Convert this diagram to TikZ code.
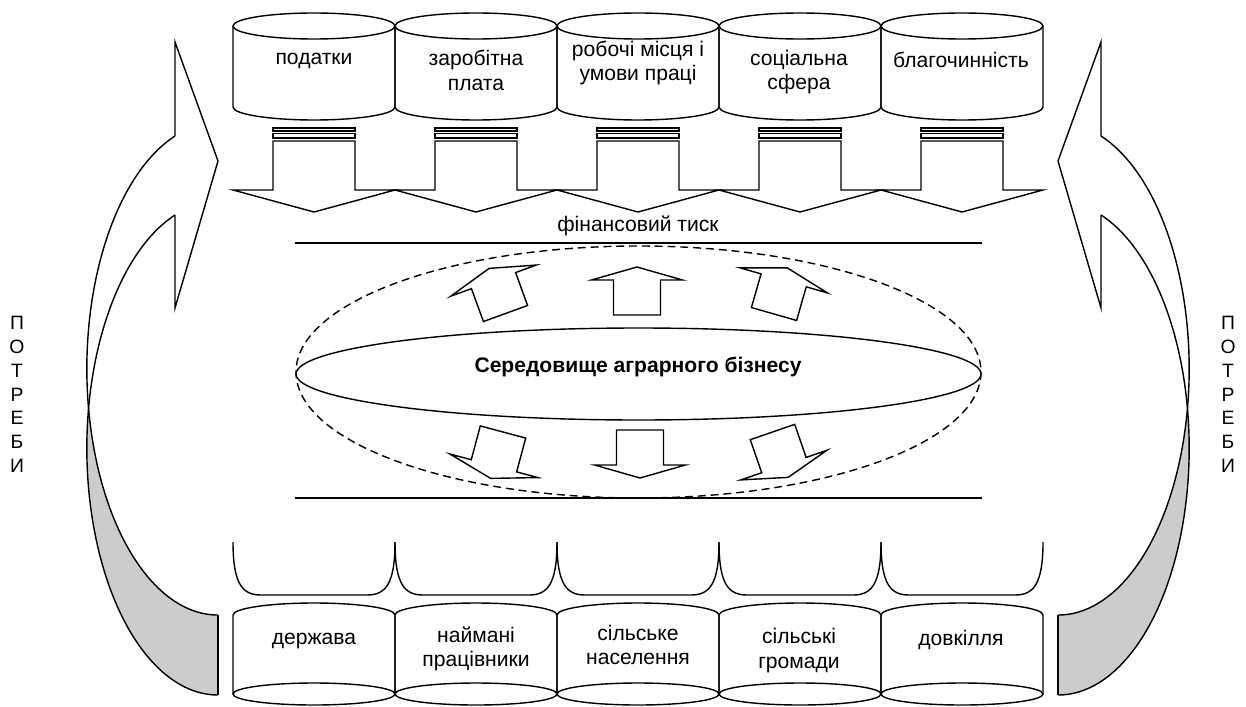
\documentclass[tikz,border=0pt]{standalone}
\usepackage{fontspec}
\setmainfont{Liberation Sans}
\usepackage{tikz}
\definecolor{backgray}{RGB}{204,204,204}
\tikzset {
  % all outlines
  outline/.style = {draw, line width=0.8pt, line join=miter},
  % dashed ring round the business environment
  dashring/.style = {outline, dash pattern=on 4.5pt off 2.8pt},
  % texts in the cylinders
  txt/.style = {font=\fontsize{12}{14}\selectfont, align=center, inner sep=0pt},
  bold/.style = {txt, font=\fontsize{12}{14}\selectfont\bfseries},
  side/.style = {font=\fontsize{11}{13.5}\selectfont, align=center, inner sep=0pt},
}
% small block arrow, tail centre at (#1,#2), turned by #3
\newcommand{\pusharrow}[3]{
  \draw[outline, shift={(#1,#2)}, rotate=#3] (-23.5,0) -- (-23.5,-35) -- (-45.5,-35)
    -- (0,-48) -- (45.5,-35) -- (23.5,-35) -- (23.5,0) -- cycle;
}
% big curved arrow on the left side
\newcommand{\needarrow}{
  \fill[backgray] (218,615) arc[start angle=90, end angle=170.71, x radius=131, y radius=246.3]
    arc[start angle=189.27, end angle=90, x radius=131, y radius=246.8] -- cycle;
  \draw[outline] (175,136) arc[start angle=250.9, end angle=90, x radius=131, y radius=246.3];
  \draw[outline] (175,215) arc[start angle=250.9, end angle=90, x radius=131, y radius=246.8];
  \draw[outline] (175,136) -- (175,42) -- (218,161) -- (175,308) -- (175,215);
  \draw[outline] (218,615) -- (218,695);
}

\begin{document}
\begin{tikzpicture}[x=0.02cm, y=-0.02cm]
  \useasboundingbox (0,0) rectangle (1246,706);

  \foreach \i in {0,...,4} {
    \pgfmathsetmacro{\xl}{233+162*\i}
    \pgfmathsetmacro{\xm}{\xl+81}
    \pgfmathsetmacro{\xr}{\xl+162}
    % top cylinder
    \draw[outline] (\xm,26) ellipse [x radius=81, y radius=13];
    \draw[outline] (\xl,26) -- (\xl,107) arc[start angle=180, end angle=0, x radius=81, y radius=13] -- (\xr,26);
    % striped arrow down
    \draw[outline] (\xm-41,128) rectangle (\xm+41,131);
    \draw[outline] (\xm-41,133.5) rectangle (\xm+41,138);
    \draw[outline] (\xm-41,141) -- (\xm+41,141) -- (\xm+41,190) -- (\xr,190) -- (\xm,212)
      -- (\xl,190) -- (\xm-41,190) -- cycle;
    % cup
    \draw[outline] (\xl,542) .. controls (\xl,585) and (\xl+10,595) .. (\xl+28,595) -- (\xr-28,595)
      .. controls (\xr-10,595) and (\xr,585) .. (\xr,542);
    % bottom cylinder
    \draw[outline] (\xm,694) ellipse [x radius=81, y radius=11];
    \draw[outline] (\xl,694) -- (\xl,615) arc[start angle=180, end angle=360, x radius=81, y radius=12] -- (\xr,694);
  }

  \node[txt] (c1) at (314,61) {податки};
  \node[txt] (c2) at (476,70.5) {заробітна\\плата};
  \node[txt] (c3) at (638,63) {робочі місця і\\умови праці};
  \node[txt] (c4) at (799,72) {соціальна\\сфера};
  \node[txt] (c5) at (961,60) {благочинність};

  \node[txt] (press) at (638,226) {фінансовий тиск};

  \draw[outline] (295,243) -- (982,243);
  \draw[outline] (295,498) -- (982,498);

  \draw[dashring] (638.5,372) ellipse [x radius=342.5, y radius=126];
  \draw[outline] (638.5,374) ellipse [x radius=342.5, y radius=46];
  \node[bold] (env) at (638,367) {Середовище аграрного бізнесу};

  \pusharrow{505.5}{313.5}{20}
  \pusharrow{637}{315}{0}
  \pusharrow{774}{314}{-16}
  \pusharrow{503}{432}{165}
  \pusharrow{640}{430}{180}
  \pusharrow{772.5}{432}{199}

  \node[txt] (b1) at (314,641) {держава};
  \node[txt] (b2) at (476,649) {наймані\\працівники};
  \node[txt] (b3) at (638,645) {сільське\\населення};
  \node[txt] (b4) at (799,650.5) {сільські\\громади};
  \node[txt] (b5) at (961,640) {довкілля};

  \needarrow
  \begin{scope}[shift={(1276,0)}, xscale=-1]
    \needarrow
  \end{scope}

  \node[side] (needl) at (17,394.5) {П\\О\\Т\\Р\\Е\\Б\\И};
  \node[side] (needr) at (1228,394.5) {П\\О\\Т\\Р\\Е\\Б\\И};
\end{tikzpicture}
\end{document}
